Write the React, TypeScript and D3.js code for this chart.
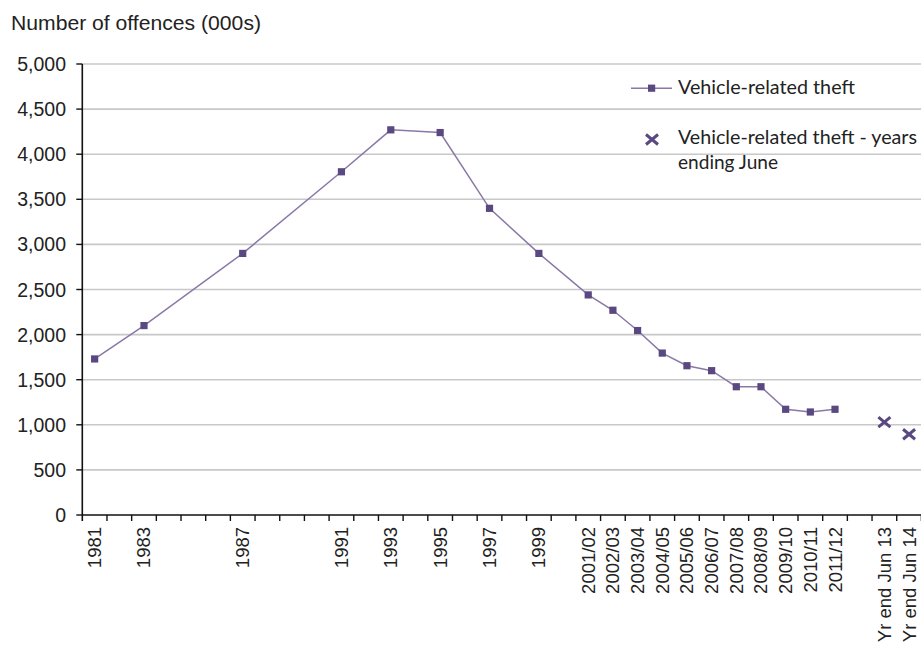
import React from "react";
import * as d3 from "d3";

const xSlotLabels = [
  "1981", "", "1983", "", "", "", "1987", "", "", "", "1991", "", "1993", "", "1995", "", "1997", "", "1999", "",
  "2001/02", "2002/03", "2003/04", "2004/05", "2005/06", "2006/07", "2007/08", "2008/09", "2009/10", "2010/11", "2011/12",
  "", "Yr end Jun 13", "Yr end Jun 14",
];
const theftCategories = [
  "1981", "1983", "1987", "1991", "1993", "1995", "1997", "1999",
  "2001/02", "2002/03", "2003/04", "2004/05", "2005/06", "2006/07", "2007/08", "2008/09", "2009/10", "2010/11", "2011/12",
];
const theftValues = [1730, 2100, 2900, 3805, 4270, 4240, 3400, 2900, 2440, 2270, 2045, 1795, 1655, 1600, 1422, 1422, 1172, 1142, 1172];
const juneCategories = ["Yr end Jun 13", "Yr end Jun 14"];
const juneValues = [1030, 895];
const yTicks = [0, 500, 1000, 1500, 2000, 2500, 3000, 3500, 4000, 4500, 5000];

const W = 921;
const H = 645;
const left = 82.3;
const right = 921.4;
const top = 64;
const bottom = 515;

const LINE = "#8a78a6";
const MARK = "#5a4880";
const AXIS_FONT = "Arial, Liberation Sans, sans-serif";
const LEGEND_FONT = "Lato, Open Sans, sans-serif";

export default function App() {
  const keys = xSlotLabels.map((l, i) => (l ? l : `gap${i}`));
  const x = d3.scaleBand<string>().domain(keys).range([left, right]).padding(0);
  const y = d3.scaleLinear().domain([0, 5000]).range([bottom, top]);
  const bw = x.bandwidth();
  const cx = (k: string) => (x(k) as number) + bw / 2;

  const line = d3
    .line<number>()
    .x((_, i) => cx(theftCategories[i]))
    .y((d) => y(d));

  const fmt = d3.format(",");

  return (
    <svg width={W} height={H} style={{ position: "absolute", left: 0, top: 0, background: "#fff" }}>
      <text x={11} y={30} fontFamily={AXIS_FONT} fontSize={20.5} fill="#222" textLength={250} lengthAdjust="spacingAndGlyphs">
        Number of offences (000s)
      </text>
      {yTicks.filter((t) => t > 0).map((t) => (
        <line key={t} x1={left} x2={W} y1={y(t)} y2={y(t)} stroke="#c8c8c8" strokeWidth={1.6} />
      ))}
      {yTicks.map((t) => (
        <g key={t}>
          <line x1={left - 6} x2={left} y1={y(t)} y2={y(t)} stroke="#111" strokeWidth={1.4} />
          <text x={66} y={y(t) + 7} textAnchor="end" fontFamily={AXIS_FONT} fontSize={19.5} fill="#222">
            {fmt(t)}
          </text>
        </g>
      ))}
      <line x1={left} x2={left} y1={top} y2={bottom + 6} stroke="#111" strokeWidth={1.6} />
      <line x1={left} x2={W} y1={bottom} y2={bottom} stroke="#111" strokeWidth={1.6} />
      {keys.map((k, i) => (
        <line key={"t" + i} x1={(x(k) as number) + bw} x2={(x(k) as number) + bw} y1={bottom} y2={bottom + 6} stroke="#111" strokeWidth={1.4} />
      ))}
      {keys.map((k, i) =>
        xSlotLabels[i] ? (
          <text
            key={"l" + i}
            transform={`translate(${cx(k) + 6.5},${527}) rotate(-90)`}
            textAnchor="end"
            fontFamily={AXIS_FONT}
            fontSize={18.5}
            fill="#222"
          >
            {xSlotLabels[i]}
          </text>
        ) : null
      )}
      <path d={line(theftValues) || ""} fill="none" stroke={LINE} strokeWidth={1.5} />
      {theftValues.map((v, i) => (
        <rect key={"m" + i} x={cx(theftCategories[i]) - 3.6} y={y(v) - 3.6} width={7.2} height={7.2} fill={MARK} />
      ))}
      {juneValues.map((v, i) => {
        const px = cx(juneCategories[i]);
        const py = y(v);
        const s = 6;
        return (
          <g key={"x" + i} stroke={MARK} strokeWidth={3}>
            <line x1={px - s} y1={py - s + 1} x2={px + s} y2={py + s - 1} />
            <line x1={px - s} y1={py + s - 1} x2={px + s} y2={py - s + 1} />
          </g>
        );
      })}
      <line x1={631} x2={672} y1={88.3} y2={88.3} stroke={LINE} strokeWidth={1.5} />
      <rect x={648} y={84.6} width={7.2} height={7.2} fill={MARK} />
      <text x={678} y={94.3} fontFamily={LEGEND_FONT} fontSize={19} fill="#222" textLength={177} lengthAdjust="spacingAndGlyphs">
        Vehicle-related theft
      </text>
      <g stroke={MARK} strokeWidth={3}>
        <line x1={646} y1={134.5} x2={658} y2={144.5} />
        <line x1={646} y1={144.5} x2={658} y2={134.5} />
      </g>
      <text x={678} y={144} fontFamily={LEGEND_FONT} fontSize={19} fill="#222" textLength={239} lengthAdjust="spacingAndGlyphs">
        Vehicle-related theft - years
      </text>
      <text x={678} y={168.5} fontFamily={LEGEND_FONT} fontSize={19} fill="#222" textLength={100} lengthAdjust="spacingAndGlyphs">
        ending June
      </text>
    </svg>
  );
}
